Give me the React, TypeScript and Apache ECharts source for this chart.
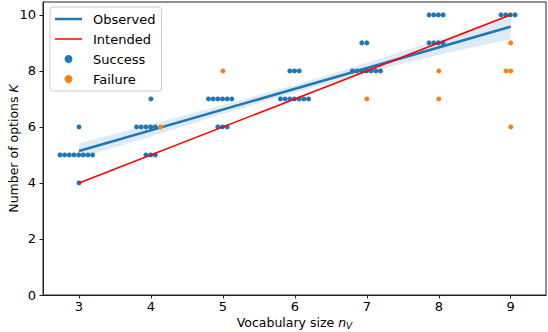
import React, { useEffect, useRef } from "react";
import * as echarts from "echarts";

// ---- data ----
const xTicks = [3, 4, 5, 6, 7, 8, 9];
const yTicks = [0, 2, 4, 6, 8, 10];

const successX = [
  2.736, 2.8, 2.865, 2.93, 2.996, 3.06, 3.125, 3.19, 3.0, 3.0,
  4.0, 3.8, 3.865, 3.93, 3.995, 4.06, 3.93, 3.995, 4.06,
  4.8, 4.865, 4.93, 4.995, 5.06, 5.125, 4.93, 4.995, 5.06,
  5.93, 5.995, 6.06, 5.8, 5.865, 5.93, 5.995, 6.06, 6.125, 6.19,
  6.93, 7.0, 6.8, 6.865, 6.93, 6.995, 7.06, 7.125, 7.19,
  7.865, 7.93, 7.995, 8.06, 7.865, 7.93, 7.995, 8.06,
  8.865, 8.93, 8.995, 9.06,
];
const successY = [
  5, 5, 5, 5, 5, 5, 5, 5, 6, 4,
  7, 6, 6, 6, 6, 6, 5, 5, 5,
  7, 7, 7, 7, 7, 7, 6, 6, 6,
  8, 8, 8, 7, 7, 7, 7, 7, 7, 7,
  9, 9, 8, 8, 8, 8, 8, 8, 8,
  10, 10, 10, 10, 9, 9, 9, 9,
  10, 10, 10, 10,
];
const failureX = [4.135, 5.0, 7.0, 8.0, 8.0, 9.0, 8.935, 9.0, 9.0];
const failureY = [6, 8, 7, 8, 7, 9, 8, 8, 6];

const observedX = [3, 9];
const observedY = [5.14, 9.58];
const intendedX = [3, 9];
const intendedY = [4, 10];

const bandX = [3, 4, 5, 6, 7, 8, 9];
const bandLower = [4.88, 5.66, 6.46, 7.22, 7.93, 8.58, 9.14];
const bandUpper = [5.41, 6.1, 6.78, 7.5, 8.28, 9.12, 9.97];

const FONT = "DejaVu Sans";
const BLUE = "#1f77b4";
const ORANGE = "#ff7f0e";

export default function App() {
  const ref = useRef<HTMLDivElement>(null);

  useEffect(() => {
    if (!ref.current) return;
    const chart = echarts.init(ref.current, undefined, { renderer: "svg" });

    const pairs = (xs: number[], ys: number[]) => xs.map((x, i) => [x, ys[i]]);

    chart.setOption({
      animation: false,
      textStyle: { fontFamily: FONT },
      grid: {
        left: 43,
        right: 2,
        top: 2,
        bottom: 37,
        containLabel: false,
        outerBoundsMode: "none",
        show: true,
        borderColor: "#222",
        borderWidth: 1,
        backgroundColor: "transparent",
      },
      legend: {
        left: 50,
        top: 7,
        orient: "vertical",
        itemWidth: 27,
        itemHeight: 8,
        itemGap: 6,
        padding: [5, 6, 5, 5],
        borderColor: "#ccc",
        borderWidth: 1,
        borderRadius: 3,
        backgroundColor: "rgba(255,255,255,0.8)",
        symbolKeepAspect: true,
        textStyle: {
          fontFamily: FONT,
          fontSize: 13,
          color: "#000",
          lineHeight: 14,
          padding: [0, 0, 0, 6],
        },
        data: [
          { name: "Observed", icon: "path://M0,0L27,0L27,2.5L0,2.5Z" },
          { name: "Intended", icon: "path://M0,0L27,0L27,1.5L0,1.5Z" },
          { name: "Success", icon: "circle" },
          { name: "Failure", icon: "circle" },
        ],
      },
      xAxis: {
        type: "value",
        min: 2.5,
        max: 9.49,
        splitLine: { show: false },
        axisLine: { show: true, onZero: false, lineStyle: { color: "#222", width: 1 } },
        axisTick: { show: true, length: 3.5, customValues: xTicks, lineStyle: { color: "#222" } },
        axisLabel: {
          customValues: xTicks,
          margin: 5,
          fontSize: 13,
          color: "#000",
          fontFamily: FONT,
        },
        name: "{n|Vocabulary size }{i|n}{s|V}",
        nameLocation: "middle",
        nameGap: 19,
        nameMoveOverlap: false,
        nameTextStyle: {
          fontFamily: FONT,
          fontSize: 12.5,
          color: "#000",
          rich: {
            n: { fontFamily: FONT, fontSize: 12.5, color: "#000", lineHeight: 16 },
            i: { fontFamily: FONT, fontSize: 12.5, color: "#000", fontStyle: "italic", lineHeight: 16 },
            s: {
              fontFamily: FONT,
              fontSize: 9,
              color: "#000",
              fontStyle: "italic",
              lineHeight: 16,
              padding: [7, 0, 0, 0],
            },
          },
        },
      },
      yAxis: {
        type: "value",
        min: 0,
        max: 10.46,
        splitLine: { show: false },
        axisLine: { show: true, onZero: false, lineStyle: { color: "#222", width: 1 } },
        axisTick: { show: true, length: 3.5, customValues: yTicks, lineStyle: { color: "#222" } },
        axisLabel: {
          customValues: yTicks,
          margin: 7,
          fontSize: 13,
          color: "#000",
          fontFamily: FONT,
        },
        name: "{n|Number of options }{i|K}",
        nameLocation: "middle",
        nameGap: 23,
        nameMoveOverlap: false,
        nameTextStyle: {
          fontFamily: FONT,
          fontSize: 12.5,
          color: "#000",
          rich: {
            n: { fontFamily: FONT, fontSize: 12.5, color: "#000" },
            i: { fontFamily: FONT, fontSize: 12.5, color: "#000", fontStyle: "italic" },
          },
        },
      },
      series: [
        {
          name: "Success",
          type: "scatter",
          data: pairs(successX, successY),
          symbol: "circle",
          symbolSize: 5,
          itemStyle: { color: BLUE, opacity: 1 },
          z: 2,
        },
        {
          name: "band",
          type: "custom",
          data: [[bandX[0], bandLower[0]]],
          z: 3,
          silent: true,
          renderItem: (_params: any, api: any) => {
            const pts: number[][] = [];
            for (let i = 0; i < bandX.length; i++) pts.push(api.coord([bandX[i], bandUpper[i]]));
            for (let i = bandX.length - 1; i >= 0; i--) pts.push(api.coord([bandX[i], bandLower[i]]));
            return {
              type: "polygon",
              shape: { points: pts },
              style: { fill: "rgba(31,119,180,0.15)", stroke: "none" },
            };
          },
        },
        {
          name: "Observed",
          type: "line",
          data: pairs(observedX, observedY),
          symbol: "none",
          lineStyle: { color: BLUE, width: 2.5 },
          itemStyle: { color: BLUE },
          z: 4,
        },
        {
          name: "Intended",
          type: "line",
          data: pairs(intendedX, intendedY),
          symbol: "none",
          lineStyle: { color: "#ff0000", width: 1.5 },
          itemStyle: { color: "#ff0000" },
          z: 5,
        },
        {
          name: "Failure",
          type: "scatter",
          data: pairs(failureX, failureY),
          symbol: "circle",
          symbolSize: 5,
          itemStyle: { color: ORANGE, opacity: 1 },
          z: 6,
        },
      ],
    });

    return () => chart.dispose();
  }, []);

  return (
    <div
      ref={ref}
      style={{ position: "fixed", left: 0, top: 0, width: 548, height: 332, background: "#fff" }}
    />
  );
}
